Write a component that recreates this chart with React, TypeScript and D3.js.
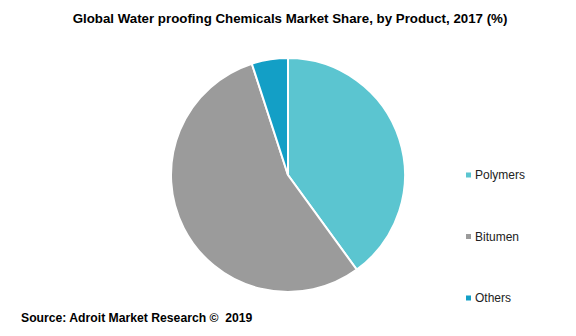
import React from "react";
import * as d3 from "d3";

const categories = ["Polymers", "Bitumen", "Others"];
const shares = [40, 55, 5];
const colors = ["#5bc5d0", "#9b9b9b", "#139fc6"];
const title = "Global Water proofing Chemicals Market Share, by Product, 2017 (%)";
const source = "Source: Adroit Market Research \u00a9  2019";

export default function App() {
  const W = 576, H = 336;
  const cx = 288, cy = 175, r = 117;
  const pie = d3.pie<number>().sort(null).value((d) => d)(shares);
  const arc = d3.arc<d3.PieArcDatum<number>>().innerRadius(0).outerRadius(r);
  const legendY = d3.scalePoint<string>().domain(categories).range([175, 298]);
  return (
    <svg width={W} height={H} style={{ position: "absolute", left: 0, top: 0, background: "#fff" }}
      fontFamily="'Liberation Sans', Arial, sans-serif">
      <text x={290} y={23} textAnchor="middle" fontSize={13.3} fontWeight="bold" fill="#000">{title}</text>
      <g transform={`translate(${cx},${cy})`}>
        {pie.map((p, i) => (
          <path key={i} d={arc(p) || ""} fill={colors[i]} stroke="#fff" strokeWidth={2} />
        ))}
      </g>
      {categories.map((c, i) => (
        <g key={c} transform={`translate(0,${legendY(c)})`}>
          <rect x={466} y={-2.5} width={5} height={5} fill={colors[i]} />
          <text x={475} y={4} fontSize={12} fill="#222">{c}</text>
        </g>
      ))}
      <text x={21} y={322} fontSize={12.2} fontWeight="bold" fill="#000" style={{ whiteSpace: "pre" }}>{source}</text>
    </svg>
  );
}
